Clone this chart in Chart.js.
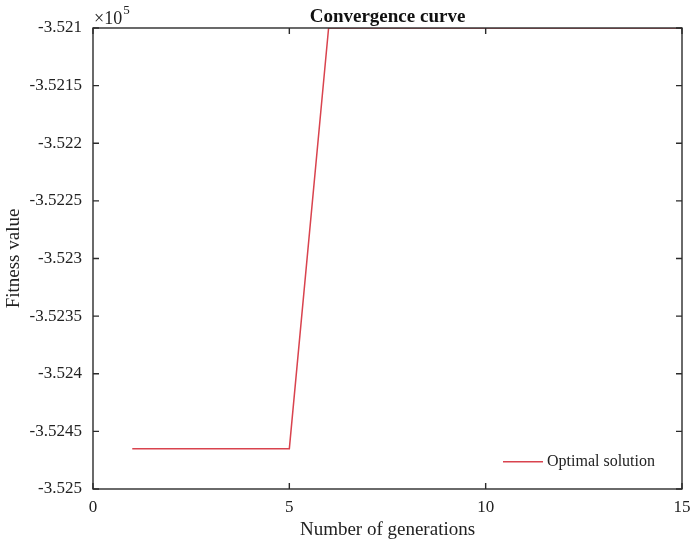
<!DOCTYPE html>
<html>
<head>
<meta charset="utf-8">
<script src="https://cdn.jsdelivr.net/npm/chart.js@4/dist/chart.umd.min.js"></script>
<style>
  html, body { margin: 0; padding: 0; background: #fff; }
  #wrap { width: 690px; height: 550px; }
</style>
</head>
<body>
<div id="wrap"><canvas id="chartConv" width="690" height="550"></canvas></div>
<script>
// ===== DATOS =====
const generations = [1, 2, 3, 4, 5, 6, 7, 8, 9, 10, 11, 12, 13, 14, 15];
const fitness = [-352465, -352465, -352465, -352465, -352465,
                 -352100, -352100, -352100, -352100, -352100,
                 -352100, -352100, -352100, -352100, -352100];
const xTicks = [0, 5, 10, 15];
const yTicks = [-352500, -352450, -352400, -352350, -352300, -352250, -352200, -352150, -352100];
const seriesLabel = 'Optimal solution';
const titleText = 'Convergence curve';

const SERIF = "'Liberation Serif', 'Times New Roman', serif";
const AXIS_COLOR = '#2b2b2b';
const LINE_COLOR = '#d9434e';

// caja tipo MATLAB con ticks hacia dentro, titulo, x10^5 y leyenda
const matlabBox = {
    id: 'matlabBox',
    afterDraw(chart) {
        const { ctx, chartArea: a, scales } = chart;
        const xs = scales.x, ys = scales.y;
        ctx.save();
        ctx.strokeStyle = AXIS_COLOR;
        ctx.lineWidth = 1.4;
        ctx.strokeRect(a.left, a.top, a.right - a.left, a.bottom - a.top);
        ctx.beginPath();
        xs.ticks.forEach(t => {
            const px = xs.getPixelForValue(t.value);
            ctx.moveTo(px, a.bottom); ctx.lineTo(px, a.bottom - 6);
            ctx.moveTo(px, a.top); ctx.lineTo(px, a.top + 6);
        });
        ys.ticks.forEach(t => {
            const py = ys.getPixelForValue(t.value);
            ctx.moveTo(a.left, py); ctx.lineTo(a.left + 6, py);
            ctx.moveTo(a.right, py); ctx.lineTo(a.right - 6, py);
        });
        ctx.stroke();

        // titulo
        ctx.fillStyle = '#111';
        ctx.font = 'bold 19px ' + SERIF;
        ctx.textAlign = 'center';
        ctx.textBaseline = 'alphabetic';
        ctx.fillText(titleText, (a.left + a.right) / 2, 22);

        // x10^5
        ctx.textAlign = 'left';
        ctx.font = '18px ' + SERIF;
        ctx.fillStyle = '#222';
        ctx.fillText('\u00d710', a.left + 1, 24);
        const w = ctx.measureText('\u00d710').width;
        ctx.font = '13px ' + SERIF;
        ctx.fillText('5', a.left + 1 + w + 1, 14);

        // leyenda
        const ds = chart.data.datasets[0];
        const ly = ys.getPixelForValue(-352465) + 13;
        ctx.strokeStyle = ds.borderColor;
        ctx.lineWidth = 1.5;
        ctx.beginPath();
        ctx.moveTo(503, ly); ctx.lineTo(543, ly);
        ctx.stroke();
        ctx.fillStyle = '#222';
        ctx.font = '16px ' + SERIF;
        ctx.textBaseline = 'middle';
        ctx.fillText(ds.label, 547, ly);
        ctx.restore();
    }
};

const chartConv = new Chart(document.getElementById('chartConv').getContext('2d'), {
    type: 'line',
    data: {
        datasets: [{
            label: seriesLabel,
            data: generations.map((g, i) => ({ x: g, y: fitness[i] })),
            borderColor: LINE_COLOR,
            borderWidth: 1.5,
            pointRadius: 0,
            tension: 0,
            fill: false
        }]
    },
    options: {
        responsive: false,
        animation: false,
        layout: { padding: { left: 0, right: 8, top: 28, bottom: 0 } },
        plugins: { legend: { display: false }, title: { display: false }, tooltip: { enabled: false } },
        scales: {
            x: {
                type: 'linear', min: 0, max: 15,
                afterBuildTicks: s => { s.ticks = xTicks.map(v => ({ value: v })); },
                afterFit: s => { s.height = 61; s.paddingLeft = 0; s.paddingRight = 0; },
                grid: { display: false, drawTicks: false },
                border: { display: false },
                ticks: { padding: 8, color: '#222', font: { family: SERIF, size: 17 } },
                title: { display: true, text: 'Number of generations', color: '#222',
                         font: { family: SERIF, size: 19 }, padding: { top: 0, bottom: 9 } }
            },
            y: {
                type: 'linear', min: -352500, max: -352100,
                afterBuildTicks: s => { s.ticks = yTicks.map(v => ({ value: v })); },
                afterFit: s => { s.width = 93; s.paddingTop = 0; s.paddingBottom = 0; },
                grid: { display: false, drawTicks: false },
                border: { display: false },
                ticks: {
                    padding: 11, color: '#222', font: { family: SERIF, size: 17 },
                    callback: v => String(parseFloat((v / 1e5).toFixed(5)))
                },
                title: { display: true, text: 'Fitness value', color: '#222',
                         font: { family: SERIF, size: 19 }, padding: { top: 3, bottom: 0 } }
            }
        }
    },
    plugins: [matlabBox]
});
</script>
</body>
</html>
